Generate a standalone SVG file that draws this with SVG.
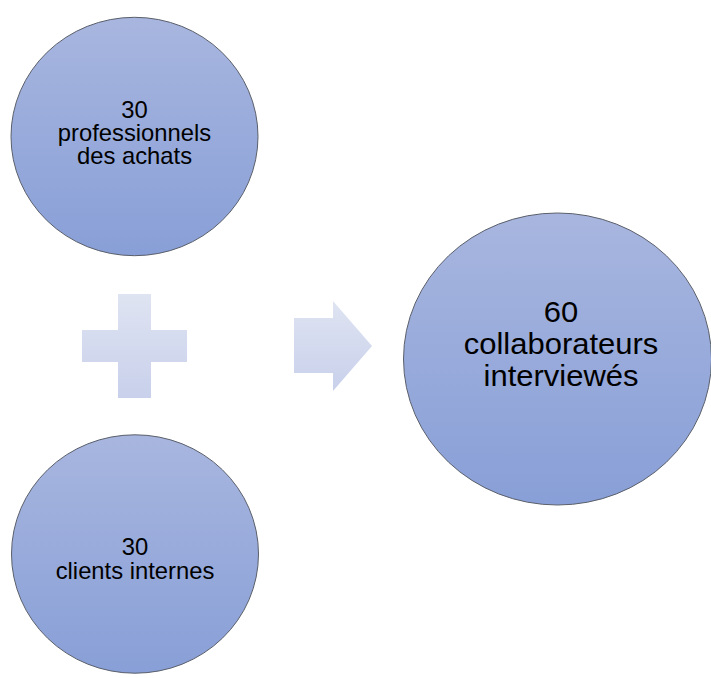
<svg xmlns="http://www.w3.org/2000/svg" width="711" height="678" viewBox="0 0 711 678">
  <defs>
    <linearGradient id="gCircle" x1="0" y1="0" x2="0" y2="1">
      <stop offset="0" stop-color="#a8b6df"/>
      <stop offset="1" stop-color="#889fd7"/>
    </linearGradient>
    <linearGradient id="gLight" x1="0" y1="0" x2="0" y2="1">
      <stop offset="0" stop-color="#dfe4f2"/>
      <stop offset="1" stop-color="#c8d0eb"/>
    </linearGradient>
  </defs>
  <style>
    .circle { fill: url(#gCircle); stroke: #5a5f6a; stroke-width: 1; }
    .light { fill: url(#gLight); stroke: none; }
    .lbl { font-family: "Liberation Sans", Arial, sans-serif; fill: #000; text-anchor: middle; }
    .small { font-size: 23px; }
    .big { font-size: 29.5px; }
  </style>
  <rect width="711" height="678" fill="#ffffff"/>

  <g id="node-professionnels">
    <ellipse class="circle" cx="134.5" cy="136.5" rx="123.5" ry="119.2"/>
    <g transform="translate(134.5,0) scale(1.035,1)">
      <text class="lbl small" x="0" y="118">30</text>
      <text class="lbl small" x="0" y="141">professionnels</text>
      <text class="lbl small" x="0" y="164">des achats</text>
    </g>
  </g>

  <g id="node-plus">
    <path class="light" d="M118,294 H151 V330 H187 V362 H151 V398 H118 V362 H82 V330 H118 Z"/>
  </g>

  <g id="node-clients">
    <ellipse class="circle" cx="135" cy="554" rx="123.5" ry="119.2"/>
    <g transform="translate(135,0) scale(1.035,1)">
      <text class="lbl small" x="0" y="555">30</text>
      <text class="lbl small" x="0" y="579">clients internes</text>
    </g>
  </g>

  <g id="connectors">
    <path class="light" d="M294,318 H333 V301 L372,346 L333,391 V373 H294 Z"/>
  </g>

  <g id="node-collaborateurs">
    <ellipse class="circle" cx="557.5" cy="359" rx="154" ry="146"/>
    <g transform="translate(561,0) scale(1.05,1)">
      <text class="lbl big" x="0" y="322">60</text>
      <text class="lbl big" x="0" y="354">collaborateurs</text>
      <text class="lbl big" x="0" y="386">interviewés</text>
    </g>
  </g>
</svg>
